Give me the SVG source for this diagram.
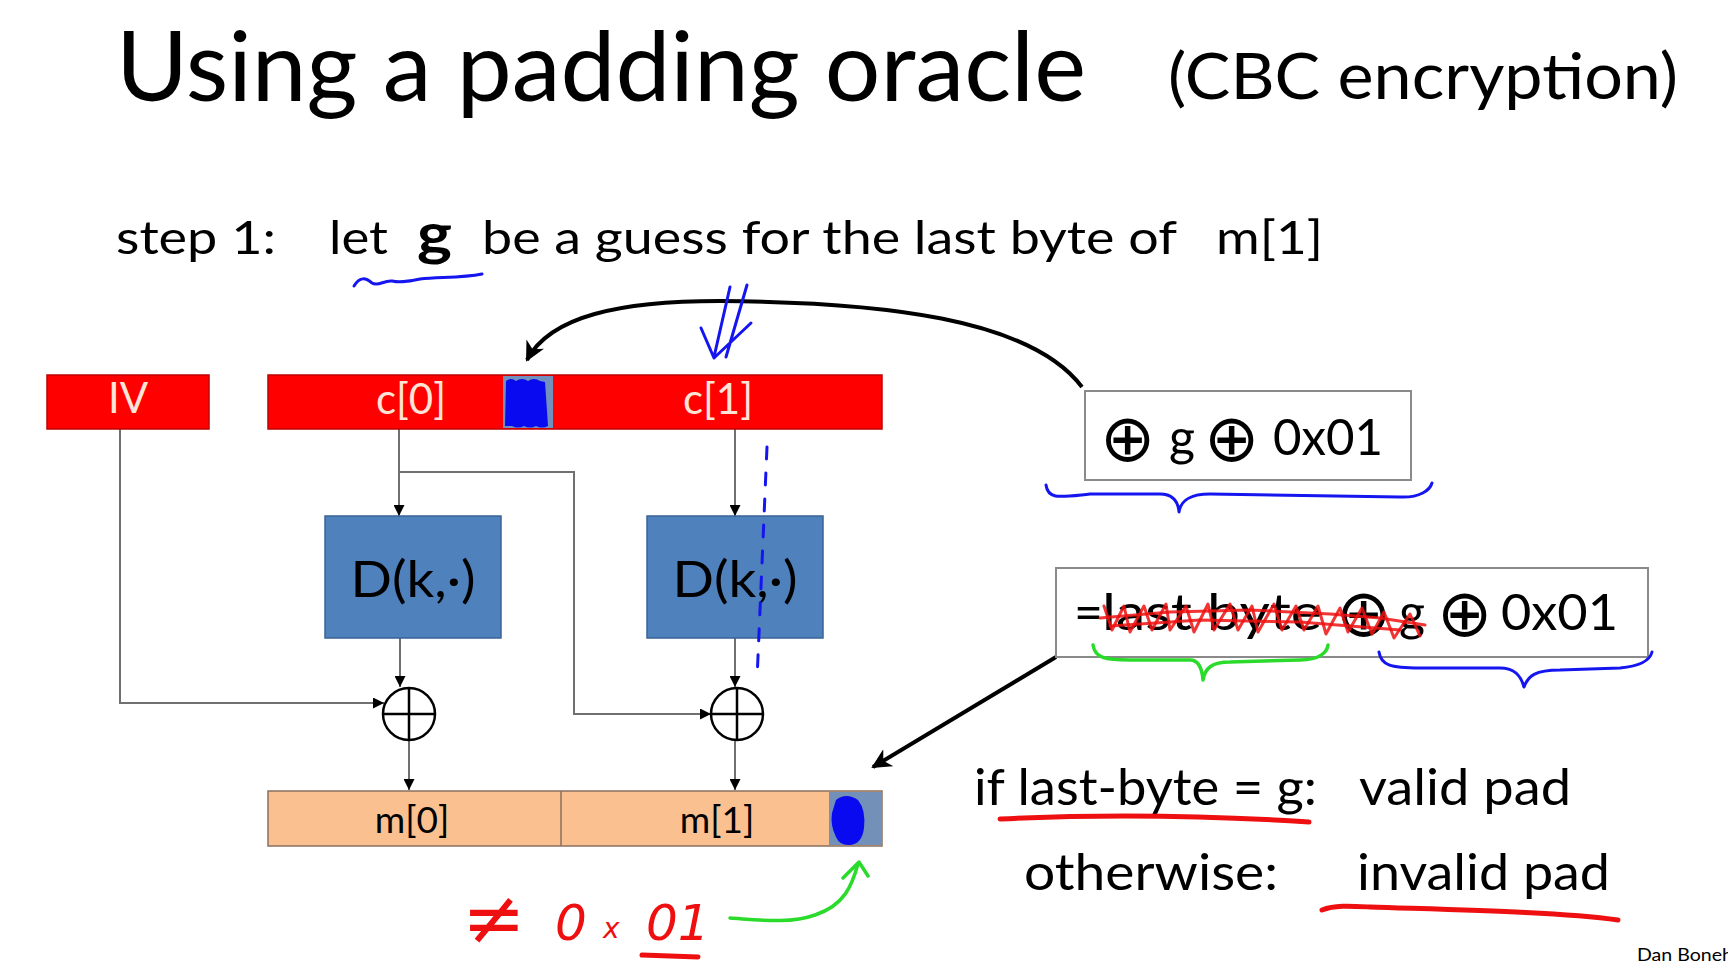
<svg xmlns="http://www.w3.org/2000/svg" width="1728" height="962" viewBox="0 0 1728 962">
<style>
  .t { font-family: Lato, "Open Sans", "Liberation Sans", sans-serif; fill: #000; }
  .sym { font-family: "DejaVu Sans", sans-serif; font-weight: 200; fill: #000; font-size: 66px; }
  .redbar { fill: #FF0000; stroke: #C00000; stroke-width: 1.5; }
  .dbox { fill: #4F81BD; stroke: #3A6396; stroke-width: 1.5; }
  .mbar { fill: #FAC090; stroke: #8A7060; stroke-width: 1.5; }
  .lbl { font-family: Lato, "Open Sans", "Liberation Sans", sans-serif; fill: #FDE4D6; font-size: 42px; text-anchor: middle; }
  .wire { fill: none; stroke: #707070; stroke-width: 2; }
  .xor { fill: #fff; stroke: #000; stroke-width: 2.5; }
  .xorx { stroke: #000; stroke-width: 2.5; }
  .box { fill: #fff; stroke: #8a8a8a; stroke-width: 2; }
  .ink { fill: none; stroke-linecap: round; stroke-linejoin: round; }
  .blue { stroke: #1515F0; stroke-width: 3; }
  .green { stroke: #2BDB2B; stroke-width: 3.5; }
  .red { stroke: #EE1010; }
  .hw { font-family: "DejaVu Sans", sans-serif; fill: #EE1010; }
  .bk { fill: none; stroke: #000; stroke-width: 4; }
</style>
<defs>
  <marker id="ah" viewBox="0 0 10 10" refX="10" refY="5" markerWidth="11" markerHeight="11" markerUnits="userSpaceOnUse" orient="auto">
    <path d="M0,0 L10,5 L0,10 z" fill="#000"/>
  </marker>
  <marker id="ahb" viewBox="0 0 10 10" refX="9" refY="5" markerWidth="20" markerHeight="20" markerUnits="userSpaceOnUse" orient="auto">
    <path d="M0,0 L10,5 L0,10 L3,5 z" fill="#000"/>
  </marker>
</defs>
<rect width="1728" height="962" fill="#fff"/>

<g id="title">
  <text class="t" x="116" y="101" font-size="96" textLength="970" lengthAdjust="spacingAndGlyphs">Using a padding oracle</text>
  <text class="t" x="1168" y="99" font-size="64" textLength="510" lengthAdjust="spacingAndGlyphs">(CBC encryption)</text>
</g>

<g id="step1">
  <text class="t" x="116" y="254" font-size="46" textLength="160" lengthAdjust="spacingAndGlyphs">step 1:</text>
  <text class="t" x="329" y="254" font-size="46" textLength="59" lengthAdjust="spacingAndGlyphs">let</text>
  <text class="t" x="417" y="254" font-size="58" font-weight="bold" textLength="35" lengthAdjust="spacingAndGlyphs">g</text>
  <text class="t" x="482" y="254" font-size="46" textLength="695" lengthAdjust="spacingAndGlyphs">be a guess for the last byte of</text>
  <text class="t" x="1216" y="254" font-size="46" textLength="107" lengthAdjust="spacingAndGlyphs">m[1]</text>
</g>

<g id="connectors">
  <path class="wire" d="M120,429 V703 H384" stroke-width="2.5" marker-end="url(#ah)"/>
  <path class="wire" d="M399,429 V516" marker-end="url(#ah)"/>
  <path class="wire" d="M399,472 H574 V714 H711" marker-end="url(#ah)"/>
  <path class="wire" d="M735,429 V516" marker-end="url(#ah)"/>
  <path class="wire" d="M400,638 V687" marker-end="url(#ah)"/>
  <path class="wire" d="M735,638 V687" marker-end="url(#ah)"/>
  <path class="wire" d="M409,740 V790" marker-end="url(#ah)"/>
  <path class="wire" d="M735,740 V790" marker-end="url(#ah)"/>
  <path class="bk" d="M1082,387 C1030,318 880,302 720,301 C620,301 550,316 527,360" marker-end="url(#ahb)"/>
  <path class="bk" d="M1056,657 L873,767" marker-end="url(#ahb)"/>
</g>

<g id="iv">
  <rect class="redbar" x="47" y="375" width="162" height="54"/>
  <text class="lbl" x="128" y="413">IV</text>
</g>

<g id="c-bar">
  <rect class="redbar" x="268" y="375" width="614" height="54"/>
  <rect x="503" y="376" width="50" height="52" fill="#7290BE"/>
  <path d="M506,381 q5,-4 10,0 q6,-4 12,0 q6,-4 12,0 l5,1 l3,44 q-6,3 -12,0 q-6,3 -12,0 q-6,3 -12,0 l-7,0 z" fill="#0A0AF0"/>
  <text class="lbl" x="411" y="414">c[0]</text>
  <text class="lbl" x="718" y="414">c[1]</text>
</g>

<g id="d1">
  <rect class="dbox" x="325" y="516" width="176" height="122"/>
  <text class="t" x="413" y="597" font-size="50" text-anchor="middle" fill="#0B1626" textLength="125" lengthAdjust="spacingAndGlyphs">D(k,·)</text>
</g>
<g id="d2">
  <rect class="dbox" x="647" y="516" width="176" height="122"/>
  <text class="t" x="735" y="597" font-size="50" text-anchor="middle" fill="#0B1626" textLength="125" lengthAdjust="spacingAndGlyphs">D(k,·)</text>
</g>

<g id="xor1">
  <circle class="xor" cx="409" cy="714" r="26"/>
  <path class="xorx" d="M383,714 H435 M409,688 V740"/>
</g>
<g id="xor2">
  <circle class="xor" cx="737" cy="714" r="26"/>
  <path class="xorx" d="M711,714 H763 M737,688 V740"/>
</g>

<g id="m-bar">
  <rect class="mbar" x="268" y="791" width="614" height="55"/>
  <line x1="561" y1="791" x2="561" y2="846" stroke="#8A7060" stroke-width="1.5"/>
  <rect x="829" y="792" width="53" height="53" fill="#7390B8"/>
  <path d="M836,800 q10,-8 22,0 q8,10 6,28 q-2,16 -14,17 q-10,1 -14,-8 q-6,-12 -4,-24 z" fill="#0A0AF0"/>
  <text class="t" x="412" y="833" font-size="37" text-anchor="middle" fill="#1a1a1a">m[0]</text>
  <text class="t" x="717" y="833" font-size="37" text-anchor="middle" fill="#1a1a1a">m[1]</text>
</g>

<g id="box1">
  <rect class="box" x="1085" y="391" width="326" height="89"/>
  <text class="sym" x="1100" y="461">⊕</text>
  <text class="t" x="1169" y="455" font-size="50">g</text>
  <text class="sym" x="1204" y="461">⊕</text>
  <text class="t" x="1273" y="455" font-size="50" textLength="110" lengthAdjust="spacingAndGlyphs">0x01</text>
</g>

<g id="box2">
  <rect class="box" x="1056" y="568" width="592" height="89"/>
  <text class="t" x="1074" y="630" font-size="50">=</text>
  <text class="t" x="1102" y="630" font-size="50" textLength="220" lengthAdjust="spacingAndGlyphs">last byte</text>
  <text class="sym" x="1336" y="636">⊕</text>
  <text class="t" x="1399" y="630" font-size="50">g</text>
  <text class="sym" x="1437" y="636">⊕</text>
  <text class="t" x="1501" y="630" font-size="50" textLength="117" lengthAdjust="spacingAndGlyphs">0x01</text>
  <path class="ink red" stroke-width="3" opacity="0.85" d="M1104,606 L1112,630 L1124,606 L1130,632 L1144,606 L1152,630 L1166,604 L1170,630 L1186,606 L1194,632 L1208,604 L1214,630 L1230,604 L1238,630 L1252,606 L1258,632 L1274,604 L1282,630 L1296,606 L1304,630 L1318,606 L1326,634 L1340,608 L1348,632 L1362,608 L1372,634 L1384,612 L1394,638 L1410,614 L1420,636"/>
  <path class="ink red" stroke-width="3" opacity="0.85" d="M1100,618 L1170,612 L1250,610 L1330,614 L1380,618 L1425,625 M1110,626 L1200,620 L1300,622 L1400,630"/>
</g>

<g id="conditions">
  <text class="t" x="974" y="805" font-size="50" textLength="343" lengthAdjust="spacingAndGlyphs">if last-byte = g:</text>
  <text class="t" x="1359" y="805" font-size="50" textLength="212" lengthAdjust="spacingAndGlyphs">valid pad</text>
  <text class="t" x="1024" y="890" font-size="50" textLength="254" lengthAdjust="spacingAndGlyphs">otherwise:</text>
  <text class="t" x="1357" y="890" font-size="50" textLength="253" lengthAdjust="spacingAndGlyphs">invalid pad</text>
</g>

<g id="annotations">
  <path class="ink blue" d="M354,286 C360,276 366,278 372,283 C378,287 384,280 392,281 C402,283 410,281 420,279 C440,277 462,278 482,274"/>
  <path class="ink blue" d="M730,287 L714,357 M747,285 L726,357 M701,328 L714,358 L751,323"/>
  <path class="ink blue" stroke-dasharray="12 14" d="M767,447 L757,680"/>
  <path class="ink blue" d="M1046,485 C1048,500 1060,497 1090,494 L1160,494 C1172,494 1178,500 1179,512 C1181,500 1190,494 1210,494 L1400,497 C1420,498 1430,490 1432,483"/>
  <path class="ink green" stroke-width="3" d="M1093,645 C1095,658 1105,660 1130,660 L1190,660 C1198,660 1202,668 1203,680 C1205,668 1212,662 1230,662 L1300,660 C1320,660 1327,652 1328,645"/>
  <path class="ink blue" d="M1379,652 C1381,665 1390,668 1420,668 L1500,668 C1515,668 1521,676 1524,687 C1528,676 1535,670 1560,670 L1620,668 C1642,666 1650,660 1652,652"/>
  <path class="ink red" stroke-width="5" d="M1000,819 C1100,814 1200,815 1309,822"/>
  <path class="ink red" stroke-width="5" d="M1322,910 C1335,905 1350,906 1370,907 C1460,910 1560,912 1618,920"/>
  <text class="hw" x="462" y="944" font-size="76">≠</text>
  <text class="hw" x="555" y="940" font-style="italic" font-size="50">0</text>
  <text class="hw" x="603" y="938" font-style="italic" font-size="28">x</text>
  <text class="hw" x="646" y="940" font-style="italic" font-size="50">01</text>
  <path class="ink red" stroke-width="5" d="M642,955 L698,957"/>
  <path class="ink green" d="M730,918 C760,920 790,924 815,915 C845,905 852,885 858,864 M843,878 L859,862 L868,876"/>
  <text class="t" x="1637" y="961" font-size="18" fill="#333" textLength="96" lengthAdjust="spacingAndGlyphs">Dan Boneh</text>
</g>
</svg>
